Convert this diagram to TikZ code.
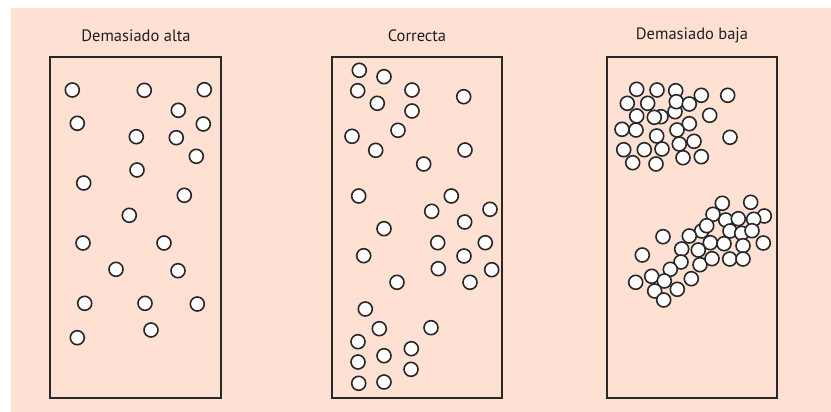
\documentclass[tikz,border=0pt]{standalone}
\usepackage{fontspec}
\setmainfont{PT Sans}
\definecolor{peach}{RGB}{254,225,211}
\definecolor{ink}{RGB}{40,40,40}
\begin{document}
\begin{tikzpicture}[x=1pt,y=-1pt,
  panel/.style={draw=ink,line width=1.6pt},
  ball/.style={draw=ink,fill=white,line width=1.6pt},
  title/.style={font=\fontsize{16.5}{19}\selectfont,text=black!88}]
\useasboundingbox (0,0) rectangle (831,412);
\fill[white] (0,0) rectangle (831,412);
\fill[peach] (11,8) rectangle (831,412);
% panels
\draw[panel] (50,57) rectangle (221,398);
\draw[panel] (332,57) rectangle (502,398);
\draw[panel] (607,57) rectangle (777,398);
\node[title] (t1) at (136,35.5) {Demasiado alta};
\node[title] (t2) at (417,35.5) {Correcta};
\node[title] (t3) at (692,35.5) {Demasiado baja};
% left panel
\foreach \x/\y in {72.3/90,144.3/90.3,204.3/89.7,178.3/110.3,77.3/123.3,203.3/124,
  136.3/136.7,176.3/137.7,196.3/156.3,137/170,83.7/183,184.3/195.3,129.3/215.3,
  83/243,164/243,116/269.3,178/270.7,84.7/303.3,145/303.3,197.3/304,151/330,77.3/337.7}
  \draw[ball] (\x,\y) circle (7);
% middle panel
\foreach \x/\y in {359.3/70.3,384/76.7,357.7/90.7,412/90,463.7/96.7,377.3/103.3,412/111,
  398/130.3,352/136.3,375.7/150.3,465/150,423.7/164,358.7/196,451.3/196,431.7/211.3,
  490/209.3,464.7/222,384/228.7,437.7/242.7,485.3/242.7,363.7/255.7,464/256,438.3/268.7,
  491.7/269.7,397/282.3,470/282.3,365.3/309,379.3/328.7,431/327.7,358/341.7,411.3/348.7,
  384/355.7,358/362,411/369.3,358.7/383.3,384/382}
  \draw[ball] (\x,\y) circle (7);
% right panel, upper cluster
\foreach \x/\y in {636.7/89.3,657/90,675.7/90.7,701.3/95.3,727.7/95.3,627.3/103.3,
  647.7/103.3,675/111.7,676.3/101.7,689.3/104,636.7/116,661/116.7,654.3/117.3,709.7/115.3,
  622/129.3,636/130,689.3/123.7,677/130,656.7/136,730/137.3,694/141.3,679.3/144,
  623.7/149.7,644.3/149.7,662/149,632.7/162.7,656/164,683/157.7,701.3/156.7}
  \draw[ball] (\x,\y) circle (7);
% right panel, lower cluster
\foreach \x/\y in {722.3/203.3,750.7/202.3,764.3/216,725.7/220,738.3/218.7,753.7/219.3,
  713/214.3,701.7/231,706.7/225.7,730/231,741.7/233.3,752/230.7,663/236.7,689.3/236,
  710.3/242.7,724/243.7,743/245.7,763.3/243,681.7/249,698.3/250,642.3/255,681/262,
  700/264.7,712/258.7,729.7/259,743/259,670.3/269.3,651.7/276.3,691.3/278.7,635.7/282.3,
  664.3/281,654.7/291,677.3/289.3,663.7/300}
  \draw[ball] (\x,\y) circle (7);
\end{tikzpicture}
\end{document}
